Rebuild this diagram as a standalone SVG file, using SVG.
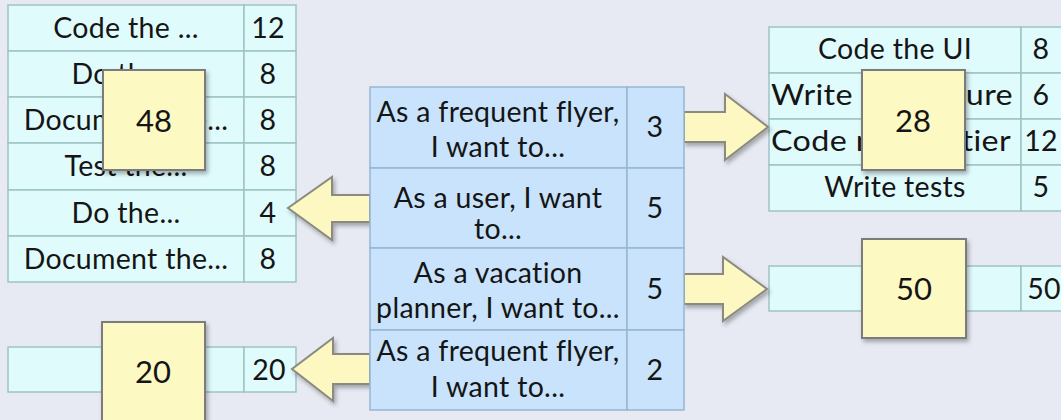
<svg xmlns="http://www.w3.org/2000/svg" width="1061" height="420" viewBox="0 0 1061 420">
<defs>
<filter id="sh" x="-20%" y="-20%" width="150%" height="150%">
<feDropShadow dx="2" dy="3" stdDeviation="2" flood-color="#000" flood-opacity="0.3"/>
</filter>
<style>
.bg{fill:#e7eaf2}
.cell{fill:#e0fbfc;stroke:#9ec3c4;stroke-width:1.5}
.ccell{fill:#c8e3fb;stroke:#97b6d2;stroke-width:1.5}
.t{font-family:Lato,"DejaVu Sans",sans-serif;font-size:28.5px;letter-spacing:0.3px;fill:#151515;text-anchor:middle}
.ts{text-anchor:start}
.st{font-family:Lato,"DejaVu Sans",sans-serif;font-size:31px;fill:#151515;text-anchor:middle}
.sticky{fill:#fdf9c3;stroke:#7c7c7c;stroke-width:2}
.arrow{fill:#fdf8c2;stroke:#8a8a80;stroke-width:2;stroke-linejoin:miter}
</style>
</defs>
<rect class="bg" x="0" y="0" width="1061" height="420"/>

<g id="left-table">
<rect class="cell" x="8" y="5" width="236" height="46"/><rect class="cell" x="244" y="5" width="52" height="46"/>
<rect class="cell" x="8" y="51" width="236" height="46"/><rect class="cell" x="244" y="51" width="52" height="46"/>
<rect class="cell" x="8" y="97" width="236" height="46"/><rect class="cell" x="244" y="97" width="52" height="46"/>
<rect class="cell" x="8" y="143" width="236" height="47"/><rect class="cell" x="244" y="143" width="52" height="47"/>
<rect class="cell" x="8" y="190" width="236" height="46"/><rect class="cell" x="244" y="190" width="52" height="46"/>
<rect class="cell" x="8" y="236" width="236" height="46"/><rect class="cell" x="244" y="236" width="52" height="46"/>
<text class="t" x="126" y="38">Code the ...</text><text class="t" x="268" y="38">12</text>
<text class="t" x="126" y="84">Do the...</text><text class="t" x="268" y="84">8</text>
<text class="t" x="126" y="130">Document the...</text><text class="t" x="268" y="130">8</text>
<text class="t" x="126" y="176">Test the...</text><text class="t" x="268" y="176">8</text>
<text class="t" x="126" y="223">Do the...</text><text class="t" x="268" y="223">4</text>
<text class="t" x="126" y="269">Document the...</text><text class="t" x="268" y="269">8</text>
</g>

<g id="left-bottom-row">
<rect class="cell" x="8" y="347" width="236" height="45"/><rect class="cell" x="244" y="347" width="52" height="45"/>
<text class="t" x="269" y="380">20</text>
</g>

<g id="right-table">
<rect class="cell" x="769" y="27" width="252" height="46"/><rect class="cell" x="1021" y="27" width="52" height="46"/>
<rect class="cell" x="769" y="73" width="252" height="46"/><rect class="cell" x="1021" y="73" width="52" height="46"/>
<rect class="cell" x="769" y="119" width="252" height="46"/><rect class="cell" x="1021" y="119" width="52" height="46"/>
<rect class="cell" x="769" y="165" width="252" height="46"/><rect class="cell" x="1021" y="165" width="52" height="46"/>
<text class="t" x="895" y="59">Code the UI</text><text class="t" x="1041" y="59">8</text>
<text class="t ts" x="771" y="105" textLength="242" lengthAdjust="spacingAndGlyphs">Write the fixture</text><text class="t" x="1041" y="105">6</text>
<text class="t ts" x="771" y="151" textLength="240" lengthAdjust="spacingAndGlyphs">Code  middle tier</text><text class="t" x="1041" y="151">12</text>
<text class="t" x="895" y="197">Write tests</text><text class="t" x="1041" y="197">5</text>
</g>

<g id="right-bottom-row">
<rect class="cell" x="769" y="266" width="252" height="45"/><rect class="cell" x="1021" y="266" width="52" height="45"/>
<text class="t" x="1044" y="299">50</text>
</g>

<g id="connectors">
<path class="arrow" filter="url(#sh)" d="M684,112 L725,112 L725,94 L768,127 L725,160 L725,142 L684,142 Z"/>
<path class="arrow" filter="url(#sh)" d="M370,195 L332,195 L332,177 L288,208 L332,240 L332,222 L370,222 Z"/>
<path class="arrow" filter="url(#sh)" d="M684,274 L723,274 L723,257 L767,289 L723,321 L723,304 L684,304 Z"/>
<path class="arrow" filter="url(#sh)" d="M370,354 L333,354 L333,338 L292,369 L333,401 L333,384 L370,384 Z"/>
</g>

<g id="story-table">
<rect class="ccell" x="370" y="87" width="257" height="81"/><rect class="ccell" x="627" y="87" width="57" height="81"/>
<rect class="ccell" x="370" y="168" width="257" height="80"/><rect class="ccell" x="627" y="168" width="57" height="80"/>
<rect class="ccell" x="370" y="248" width="257" height="82"/><rect class="ccell" x="627" y="248" width="57" height="82"/>
<rect class="ccell" x="370" y="330" width="257" height="80"/><rect class="ccell" x="627" y="330" width="57" height="80"/>
<text class="t" x="498" y="122">As a frequent flyer,</text><text class="t" x="498" y="157">I want to...</text><text class="t" x="655" y="137">3</text>
<text class="t" x="498" y="208">As a user, I want</text><text class="t" x="498" y="239">to...</text><text class="t" x="655" y="218">5</text>
<text class="t" x="498" y="283">As a vacation</text><text class="t" x="498" y="318">planner, I want to...</text><text class="t" x="655" y="299">5</text>
<text class="t" x="498" y="361">As a frequent flyer,</text><text class="t" x="498" y="397">I want to...</text><text class="t" x="655" y="380">2</text>
</g>

<g id="sticky-48">
<rect class="sticky" filter="url(#sh)" x="103" y="70" width="102" height="100"/>
<text class="st" x="154" y="132">48</text>
</g>
<g id="sticky-20">
<rect class="sticky" filter="url(#sh)" x="102" y="322" width="103" height="100"/>
<text class="st" x="153" y="383">20</text>
</g>
<g id="sticky-28">
<rect class="sticky" filter="url(#sh)" x="862" y="70" width="103" height="100"/>
<text class="st" x="913" y="132">28</text>
</g>
<g id="sticky-50">
<rect class="sticky" filter="url(#sh)" x="862" y="239" width="104" height="99"/>
<text class="st" x="914" y="300">50</text>
</g>
</svg>
